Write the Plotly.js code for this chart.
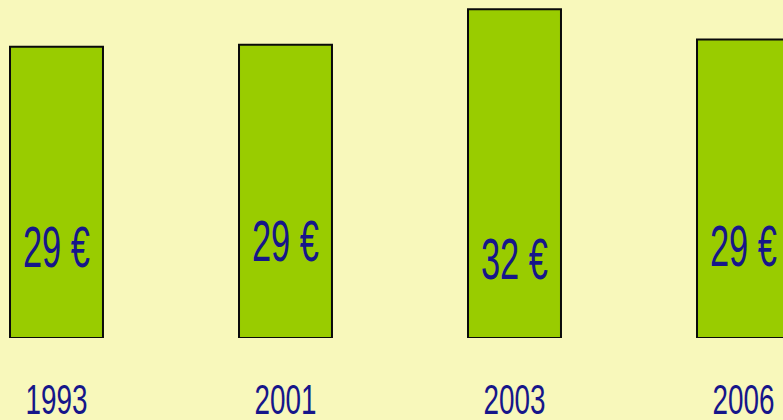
<!DOCTYPE html>
<html>
<head>
<meta charset="utf-8">
<script src="https://cdn.plot.ly/plotly-3.0.1.min.js"></script>
<style>
html,body{margin:0;padding:0;background:#f8f8bb;}
#chart{width:783px;height:420px;}
</style>
</head>
<body>
<div id="chart"></div>
<script>
// Data
const years = ["1993", "2001", "2003", "2006"];
const prices = [28.7, 28.9, 32.4, 29.4];
const priceLabels = ["29 €", "29 €", "32 €", "29 €"];

const FONT = "Liberation Sans, Arial, sans-serif";
const NAVY = "#16168a";

const labelShift = [0, 6, -12, 1];

const trace = {
  type: "bar",
  x: years,
  y: prices,
  width: 0.406,
  marker: {color: "#99cc00", line: {color: "#0a0a0a", width: 2}},
  hoverinfo: "none"
};

const annotations = years.map((yr, i) => ({
  x: i, y: 9, xref: "x", yref: "y",
  text: priceLabels[i], showarrow: false,
  yshift: labelShift[i],
  font: {family: FONT, size: 58, color: NAVY}
}));

const layout = {
  width: 783, height: 420,
  margin: {l: 0, r: 0, t: 0, b: 82, pad: 0},
  paper_bgcolor: "#f8f8bb",
  plot_bgcolor: "#f8f8bb",
  showlegend: false,
  xaxis: {
    type: "category",
    range: [-0.2467, 3.1725],
    showgrid: false, zeroline: false, showline: false,
    ticks: "", ticklabelstandoff: 33,
    tickfont: {family: FONT, size: 42, color: NAVY}
  },
  yaxis: {
    range: [0, 33.3],
    visible: false, showgrid: false, zeroline: false
  },
  annotations: annotations
};

// The reference uses a narrow typeface; squeeze glyphs horizontally.
function condense(selector, width) {
  document.querySelectorAll(selector).forEach(t => {
    t.setAttribute("textLength", width);
    t.setAttribute("lengthAdjust", "spacingAndGlyphs");
  });
}

Plotly.newPlot("chart", [trace], layout, {displayModeBar: false, staticPlot: true}).then(() => {
  condense(".xtick text", 62);
  condense(".annotation-text", 67);
});
</script>
</body>
</html>
